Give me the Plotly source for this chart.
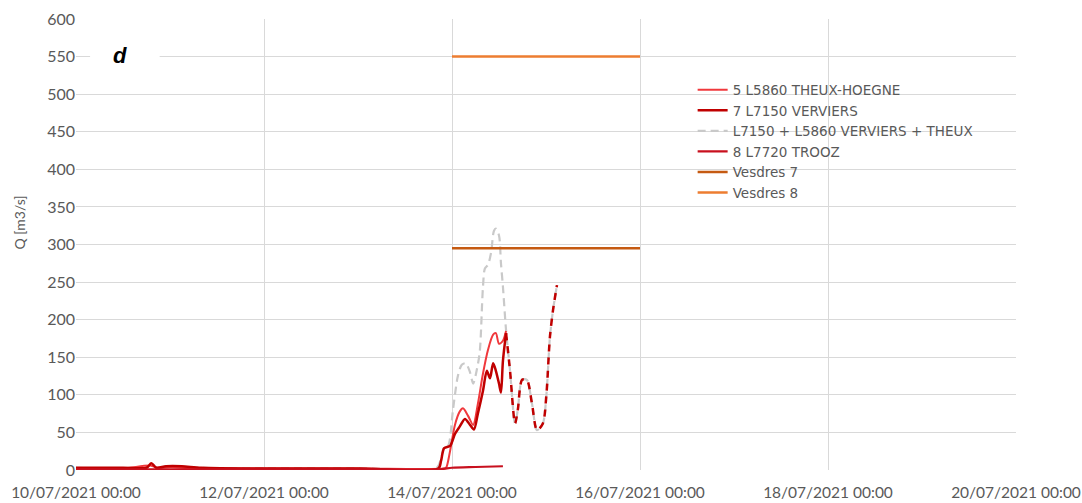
import plotly.graph_objects as go

# ---------------- data ----------------
theux_t = ["2021-07-10 00:00", "2021-07-10 12:00", "2021-07-10 19:00", "2021-07-10 21:00",
           "2021-07-11 00:00", "2021-07-11 06:00", "2021-07-12 00:00", "2021-07-13 00:00",
           "2021-07-13 22:00", "2021-07-13 22:30", "2021-07-13 23:30", "2021-07-14 00:45",
           "2021-07-14 02:00", "2021-07-14 02:48", "2021-07-14 04:06", "2021-07-14 05:24",
           "2021-07-14 06:36", "2021-07-14 07:54", "2021-07-14 09:12", "2021-07-14 10:30",
           "2021-07-14 11:12", "2021-07-14 12:00", "2021-07-14 13:00", "2021-07-14 13:48"]
theux_q = [2, 2, 6, 2.5, 4, 2, 2, 2, 2, 3, 25, 60, 78, 82, 72, 60, 88, 128, 160, 180, 182, 168, 172, 185]

verv_t = ["2021-07-10 00:00", "2021-07-10 12:00", "2021-07-10 18:00", "2021-07-10 19:15",
          "2021-07-10 20:30", "2021-07-10 23:00", "2021-07-11 03:00", "2021-07-11 08:00",
          "2021-07-12 00:00", "2021-07-13 00:00", "2021-07-13 20:30", "2021-07-13 21:12",
          "2021-07-13 22:00", "2021-07-13 23:30", "2021-07-14 00:45", "2021-07-14 02:00",
          "2021-07-14 03:18", "2021-07-14 04:36", "2021-07-14 05:36", "2021-07-14 06:36",
          "2021-07-14 07:54", "2021-07-14 08:54", "2021-07-14 09:42", "2021-07-14 10:30",
          "2021-07-14 11:12", "2021-07-14 12:00", "2021-07-14 12:30", "2021-07-14 13:00",
          "2021-07-14 13:48"]
verv_q = [3, 3, 3, 9, 3, 5, 5, 3, 2, 2, 2, 12, 29, 32, 48, 58, 68, 60, 54, 75, 105, 132, 122, 142,
          132, 115, 103, 145, 182]

# estimated (dashed) continuation of Verviers
verv_est_t = ["2021-07-14 13:48", "2021-07-14 14:48", "2021-07-14 16:06", "2021-07-14 16:48",
              "2021-07-14 17:54", "2021-07-14 19:06", "2021-07-14 20:24", "2021-07-14 21:42",
              "2021-07-14 23:12", "2021-07-15 00:06", "2021-07-15 01:00", "2021-07-15 01:48",
              "2021-07-15 02:48"]
verv_est_q = [182, 133, 62, 80, 120, 120, 89, 53, 62, 100, 177, 213, 246]

sum_t = ["2021-07-10 00:00", "2021-07-10 18:00", "2021-07-10 19:15", "2021-07-10 20:30",
         "2021-07-10 23:00", "2021-07-11 06:00", "2021-07-12 00:00", "2021-07-13 00:00",
         "2021-07-13 20:00", "2021-07-13 21:12", "2021-07-13 22:00", "2021-07-13 23:00",
         "2021-07-14 00:15", "2021-07-14 01:30", "2021-07-14 02:30", "2021-07-14 03:30",
         "2021-07-14 04:36", "2021-07-14 05:24", "2021-07-14 06:24", "2021-07-14 07:06",
         "2021-07-14 07:54", "2021-07-14 08:24", "2021-07-14 09:12", "2021-07-14 10:00",
         "2021-07-14 10:42", "2021-07-14 11:12", "2021-07-14 12:00", "2021-07-14 12:30",
         "2021-07-14 13:00", "2021-07-14 13:48"] + verv_est_t[1:]
sum_q = [3, 3, 8, 3, 5, 3, 2.5, 2.5, 2.5, 15, 30, 32, 80, 125, 140, 142, 130, 115, 135, 158,
         243, 268, 273, 290, 318, 321, 312, 275, 244, 186] + verv_est_q[1:]

trooz_t = ["2021-07-10 00:00", "2021-07-11 00:00", "2021-07-12 00:00", "2021-07-13 00:00",
           "2021-07-13 21:00", "2021-07-14 00:00", "2021-07-14 06:00", "2021-07-14 13:00"]
trooz_q = [1, 1, 1, 1, 1, 3, 4, 5]

vesdres_t = ["2021-07-14 00:00", "2021-07-16 00:00"]
vesdres7_q = [295, 295]
vesdres8_q = [550, 550]

names = ["5 L5860 THEUX-HOEGNE", "7 L7150 VERVIERS", "L7150 + L5860 VERVIERS + THEUX",
         "8 L7720 TROOZ", "Vesdres 7", "Vesdres 8"]

# ---------------- figure ----------------
TXT = "#595959"
fig = go.Figure()

fig.add_trace(go.Scatter(x=sum_t, y=sum_q, name=names[2], mode="lines", legendrank=3,
                         line=dict(color="#c9c9c9", width=2.2, dash="8px,5px", shape="spline", smoothing=0.8)))
fig.add_trace(go.Scatter(x=theux_t, y=theux_q, name=names[0], mode="lines", legendrank=1,
                         line=dict(color="#f0383c", width=2, shape="spline", smoothing=0.8)))
fig.add_trace(go.Scatter(x=verv_t, y=verv_q, name=names[1], mode="lines", legendrank=2,
                         line=dict(color="#c00000", width=2.5, shape="spline", smoothing=0.8)))
fig.add_trace(go.Scatter(x=verv_est_t, y=verv_est_q, name=names[1], mode="lines", showlegend=False,
                         line=dict(color="#c00000", width=2.5, dash="7px,6px", shape="spline", smoothing=0.8)))
fig.add_trace(go.Scatter(x=trooz_t, y=trooz_q, name=names[3], mode="lines", legendrank=4,
                         line=dict(color="#c8101e", width=2.2, shape="spline", smoothing=0.8)))
fig.add_trace(go.Scatter(x=vesdres_t, y=vesdres7_q, name=names[4], mode="lines", legendrank=5,
                         line=dict(color="#c55a11", width=2.5)))
fig.add_trace(go.Scatter(x=vesdres_t, y=vesdres8_q, name=names[5], mode="lines", legendrank=6,
                         line=dict(color="#ed7d31", width=2.5)))

fig.update_layout(
    width=1082, height=503,
    margin=dict(l=76, r=66, t=19, b=33, autoexpand=False),
    paper_bgcolor="white", plot_bgcolor="white",
    font=dict(family="Lato", size=15, color=TXT),
    showlegend=True,
    legend=dict(x=0.656, y=0.877, xanchor="left", yanchor="top", bgcolor="rgba(0,0,0,0)",
                font=dict(family="DejaVu Sans", size=13.5, color=TXT), tracegroupgap=0,
                itemwidth=30),
    xaxis=dict(type="date", range=["2021-07-10", "2021-07-20"], dtick=2 * 86400000,
               tick0="2021-07-10", tickformat="%d/%m/%Y %H:%M", showgrid=True,
               gridcolor="#d9d9d9", gridwidth=1, zeroline=False, showline=False,
               ticks="", tickfont=dict(size=15.5, color=TXT), automargin=False,
               ticklabeloverflow="allow", ticklabelstandoff=11),
    yaxis=dict(range=[0, 600], dtick=50, showgrid=True, gridcolor="#d9d9d9", gridwidth=1,
               zeroline=False, showline=False, ticks="", tickfont=dict(size=16, color=TXT),
               automargin=False),
    shapes=[dict(type="rect", xref="paper", yref="paper", x0=0.015, x1=0.089, y0=0.875, y1=1.01,
                 fillcolor="white", line=dict(width=0), layer="above")],
    annotations=[
        dict(text="<b><i>d</i></b>", xref="paper", yref="paper", x=0.047, y=0.92,
             xanchor="center", yanchor="middle", showarrow=False,
             font=dict(family="Liberation Sans", size=22, color="black")),
        dict(text="Q [m3/s]", xref="paper", yref="paper", x=-0.06, y=0.548, textangle=-90,
             xanchor="center", yanchor="middle", showarrow=False,
             font=dict(family="Lato", size=14, color=TXT)),
    ],
)

# remove the default page margin so the figure fills the window exactly
fig.write_html("out.html", config={"displayModeBar": False},
               post_script="document.body.style.margin='0';document.body.style.overflow='hidden';")
